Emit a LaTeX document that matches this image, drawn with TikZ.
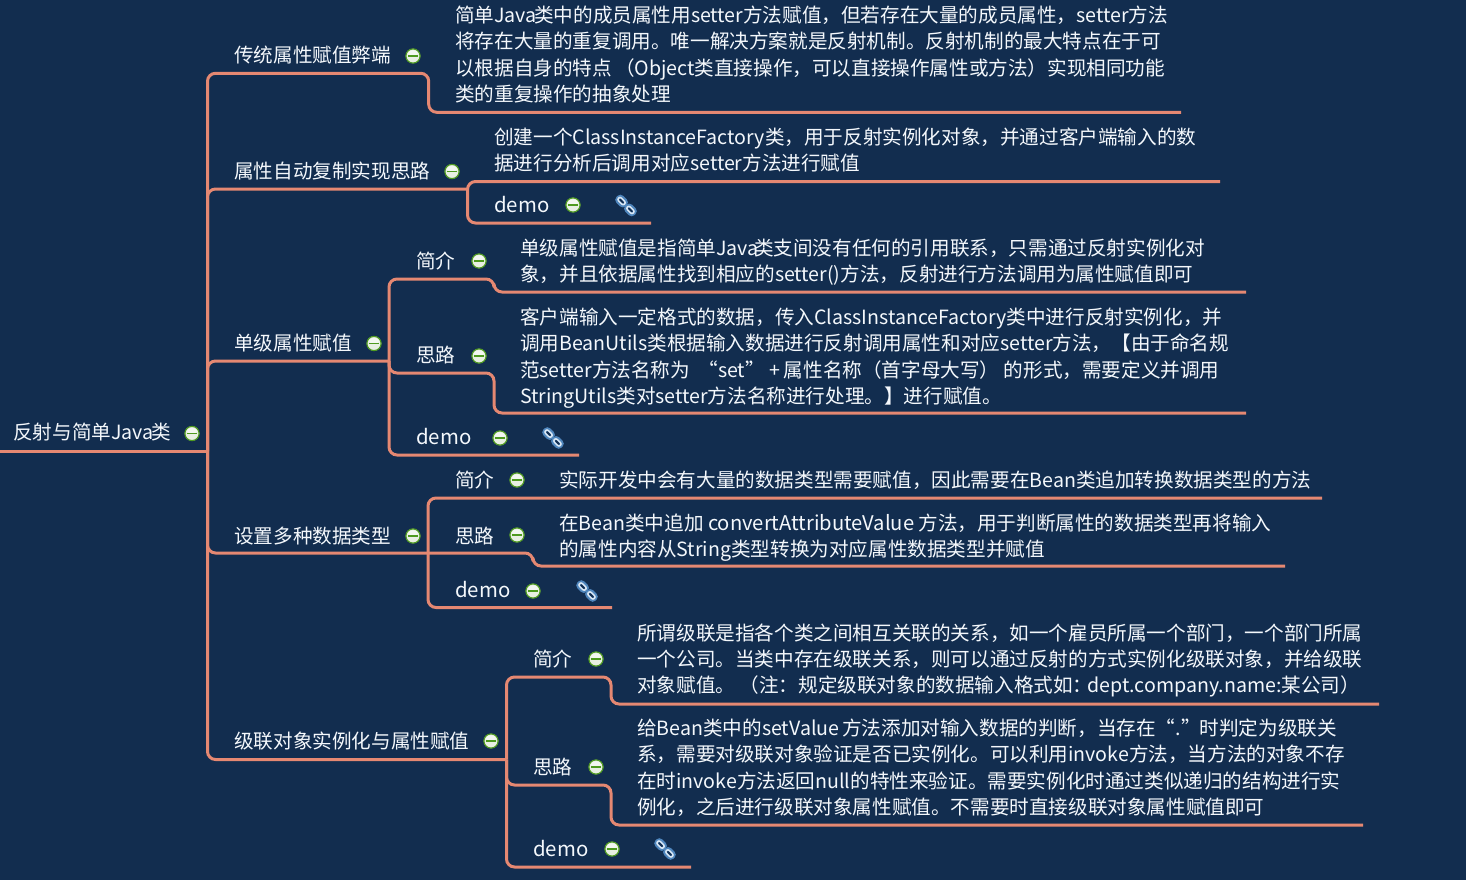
\documentclass[tikz,border=0pt]{standalone}
\usepackage{fontspec}
\setmainfont{Noto Sans CJK SC}
\definecolor{bgc}{HTML}{122D4F}
\definecolor{linec}{HTML}{E58872}
\definecolor{txtc}{HTML}{F4F8FC}
\definecolor{minusg}{HTML}{4E9A1E}
\definecolor{minusf}{HTML}{E8EFE2}
\definecolor{chainb}{HTML}{4F86BD}
\definecolor{chainl}{HTML}{DCE8F4}
\newcommand{\javaw}{Java\hspace{-2.5pt}}
\newcommand{\widelatin}[1]{{\fontsize{20.2}{26.4}\selectfont #1}}
\tikzset{
  lbl/.style={anchor=base west,inner sep=0pt,text=txtc,font=\fontsize{19.6}{26.4}\selectfont,align=left},
  demolbl/.style={lbl,font=\fontsize{20.4}{26.4}\selectfont},
  conn/.style={draw=linec,line width=3pt,rounded corners=8pt},
  collapse/.pic={
    \fill[minusf] (0,0) circle (7.3);
    \fill[white,opacity=.5] (0,-2.5) ellipse (5 and 3.2);
    \draw[minusg,line width=1.1pt] (0,0) circle (7.1);
    \draw[minusg,line width=1.1pt] (-4.8,0) -- (4.8,0);
  },
  linkicon/.pic={
    \begin{scope}[rotate=-45]
      \draw[chainb,line width=3.6pt,rounded corners=2.5pt] (-11,-3) rectangle (-1.5,3);
      \draw[chainb,line width=3.6pt,rounded corners=2.5pt] (1.5,-3) rectangle (11,3);
      \draw[chainl,line width=1.5pt,rounded corners=2pt] (-10.5,-2) rectangle (-2,2);
      \draw[chainl,line width=1.5pt,rounded corners=2pt] (2,-2) rectangle (10.5,2);
    \end{scope}
  },
}
\begin{document}
\begin{tikzpicture}[x=1pt,y=-1pt]
\useasboundingbox[fill=bgc] (0,0) rectangle (1466,880);

% ---------- text ----------
\node[lbl] (root) at (13,439) {反射与简单\javaw 类};
\node[lbl] (t1) at (234,62.5) {传统属性赋值弊端};
\node[lbl] (t1a) at (455,101.5) {简单\javaw 类中的成员属性用setter方法赋值，但若存在大量的成员属性，setter方法\\将存在大量的重复调用。唯一解决方案就是反射机制。反射机制的最大特点在于可\\以根据自身的特点\hspace{3pt}（Object类直接操作，可以直接操作属性或方法）实现相同功能\\类的重复操作的抽象处理};
\node[lbl] (t2) at (234,178.5) {属性自动复制实现思路};
\node[lbl] (t2a) at (494,170.5) {创建一个ClassInstanceFactory类，用于反射实例化对象，并通过客户端输入的数\\据进行分析后调用对应setter方法进行赋值};
\node[demolbl] (t2b) at (494,212.5) {demo};
\node[lbl] (t3) at (234,350.5) {单级属性赋值};
\node[lbl] (t3a) at (416,268) {简介};
\node[lbl] (t3at) at (520,281.5) {单级属性赋值是指简单Java\hspace{-4.5pt}类支间没有任何的引用联系，只需通过反射实例化对\\象，并且依据属性找到相应的setter()方法，反射进行方法调用为属性赋值即可};
\node[lbl] (t3b) at (416,362.5) {思路};
\node[lbl] (t3bt) at (520,403.5) {客户端输入一定格式的数据，传入ClassInstanceFactory类中进行反射实例化，并\\调用BeanUtils类根据输入数据进行反射调用属性和对应setter方法，【由于命名规\\范setter方法名称为\hspace{4pt} “set”\hspace{5pt}+\hspace{3pt}属性名称（首字母大写） 的形式，需要定义并调用\\StringUtils类对setter方法名称进行处理。】进行赋值。};
\node[demolbl] (t3c) at (416,444.5) {demo};
\node[lbl] (t4) at (234,543.5) {设置多种数据类型};
\node[lbl] (t4a) at (455,487.5) {简介};
\node[lbl] (t4at) at (559,487.5) {实际开发中会有大量的数据类型需要赋值，因此需要在Bean类追加转换数据类型的方法};
\node[lbl] (t4b) at (455,543) {思路};
\node[lbl] (t4bt) at (559,556.5) {在Bean类中追加 \widelatin{convertAttributeValue} 方法，用于判断属性的数据类型再将输入\\的属性内容从String类型转换为对应属性数据类型并赋值};
\node[demolbl] (t4c) at (455,597.5) {demo};
\node[lbl] (t5) at (234,748.5) {级联对象实例化与属性赋值};
\node[lbl] (t5a) at (533,666.5) {简介};
\node[lbl,font=\fontsize{19.6}{26}\selectfont] (t5at) at (637,692.5) {所谓级联是指各个类之间相互关联的关系，如一个雇员所属一个部门，一个部门所属\\一个公司。当类中存在级联关系，则可以通过反射的方式实例化级联对象，并给级联\\对象赋值。 （注：规定级联对象的数据输入格式如：\hspace{-5pt}dept.company.name:某公司）};
\node[lbl] (t5b) at (533,774.5) {思路};
\node[lbl] (t5bt) at (637,814.5) {给Bean类中的setValue\hspace{3pt}方法添加对输入数据的判断，当存在“.”\hspace{-1pt}时判定为级联关\\系，需要对级联对象验证是否已实例化。可以利用invoke方法，当方法的对象不存\\在时invoke方法返回null的特性来验证。需要实例化时通过类似递归的结构进行实\\例化，之后进行级联对象属性赋值。不需要时直接级联对象属性赋值即可};
\node[demolbl] (t5c) at (533,856.5) {demo};

% ---------- collapse markers ----------
\foreach \px/\py in {192/433.5,413/56,452/171.5,573/205,374/343.5,479/261,479/356,500/438,413/536,517/480,517/535,533/591,491/741,596/659,596/767,612/849}
  \pic at (\px,\py) {collapse};
% ---------- link icons ----------
\foreach \px/\py in {626/205.5,553/438,587/591,665/849}
  \pic at (\px,\py) {linkicon};

% ---------- connector anchors ----------
\coordinate (spine) at (207.5,451);
\coordinate (rootstart) at (0,451);
\coordinate (e1) at (1181,112.3);
\coordinate (e2a) at (1220,181.5);
\coordinate (e2b) at (651,223);
\coordinate (e3a) at (1246,292);
\coordinate (e3b) at (1246,413);
\coordinate (e3c) at (579,455);
\coordinate (e4a) at (1322,498);
\coordinate (e4b) at (1285,566);
\coordinate (e4c) at (612,607.5);
\coordinate (e5a) at (1379,704);
\coordinate (e5b) at (1363,825);
\coordinate (e5c) at (691,867);
\coordinate (j3) at (389,361);
\coordinate (j4) at (428,553);
\coordinate (j5) at (506.5,759.5);
\coordinate (j2) at (467.5,189);

% ---------- connectors ----------
\draw[conn] (rootstart) -- (spine);
\draw[conn] (spine) -- (207.5,73.3) -- (428.7,73.3) -- (428.7,112.3) -- (e1);
\draw[conn] (spine) -- (207.5,189) -- (j2);
\draw[conn] (e2a) -- (467.5,181.5) -- (467.5,223) -- (e2b);
\draw[conn] (spine) -- (207.5,361) -- (j3);
\draw[conn] (j3) -- (389,279) -- (494,279) -- (494,292) -- (e3a);
\draw[conn] (j3) -- (389,373) -- (494,373) -- (494,413) -- (e3b);
\draw[conn] (j3) -- (389,455) -- (e3c);
\draw[conn] (spine) -- (207.5,553) -- (j4);
\draw[conn] (j4) -- (428,498) -- (e4a);
\draw[conn] (j4) -- (533,553) -- (533,566) -- (e4b);
\draw[conn] (j4) -- (428,607.5) -- (e4c);
\draw[conn] (spine) -- (207.5,759.5) -- (j5);
\draw[conn] (j5) -- (506.5,677) -- (611,677) -- (611,704) -- (e5a);
\draw[conn] (j5) -- (506.5,785) -- (611,785) -- (611,825) -- (e5b);
\draw[conn] (j5) -- (506.5,867) -- (e5c);
\end{tikzpicture}
\end{document}
